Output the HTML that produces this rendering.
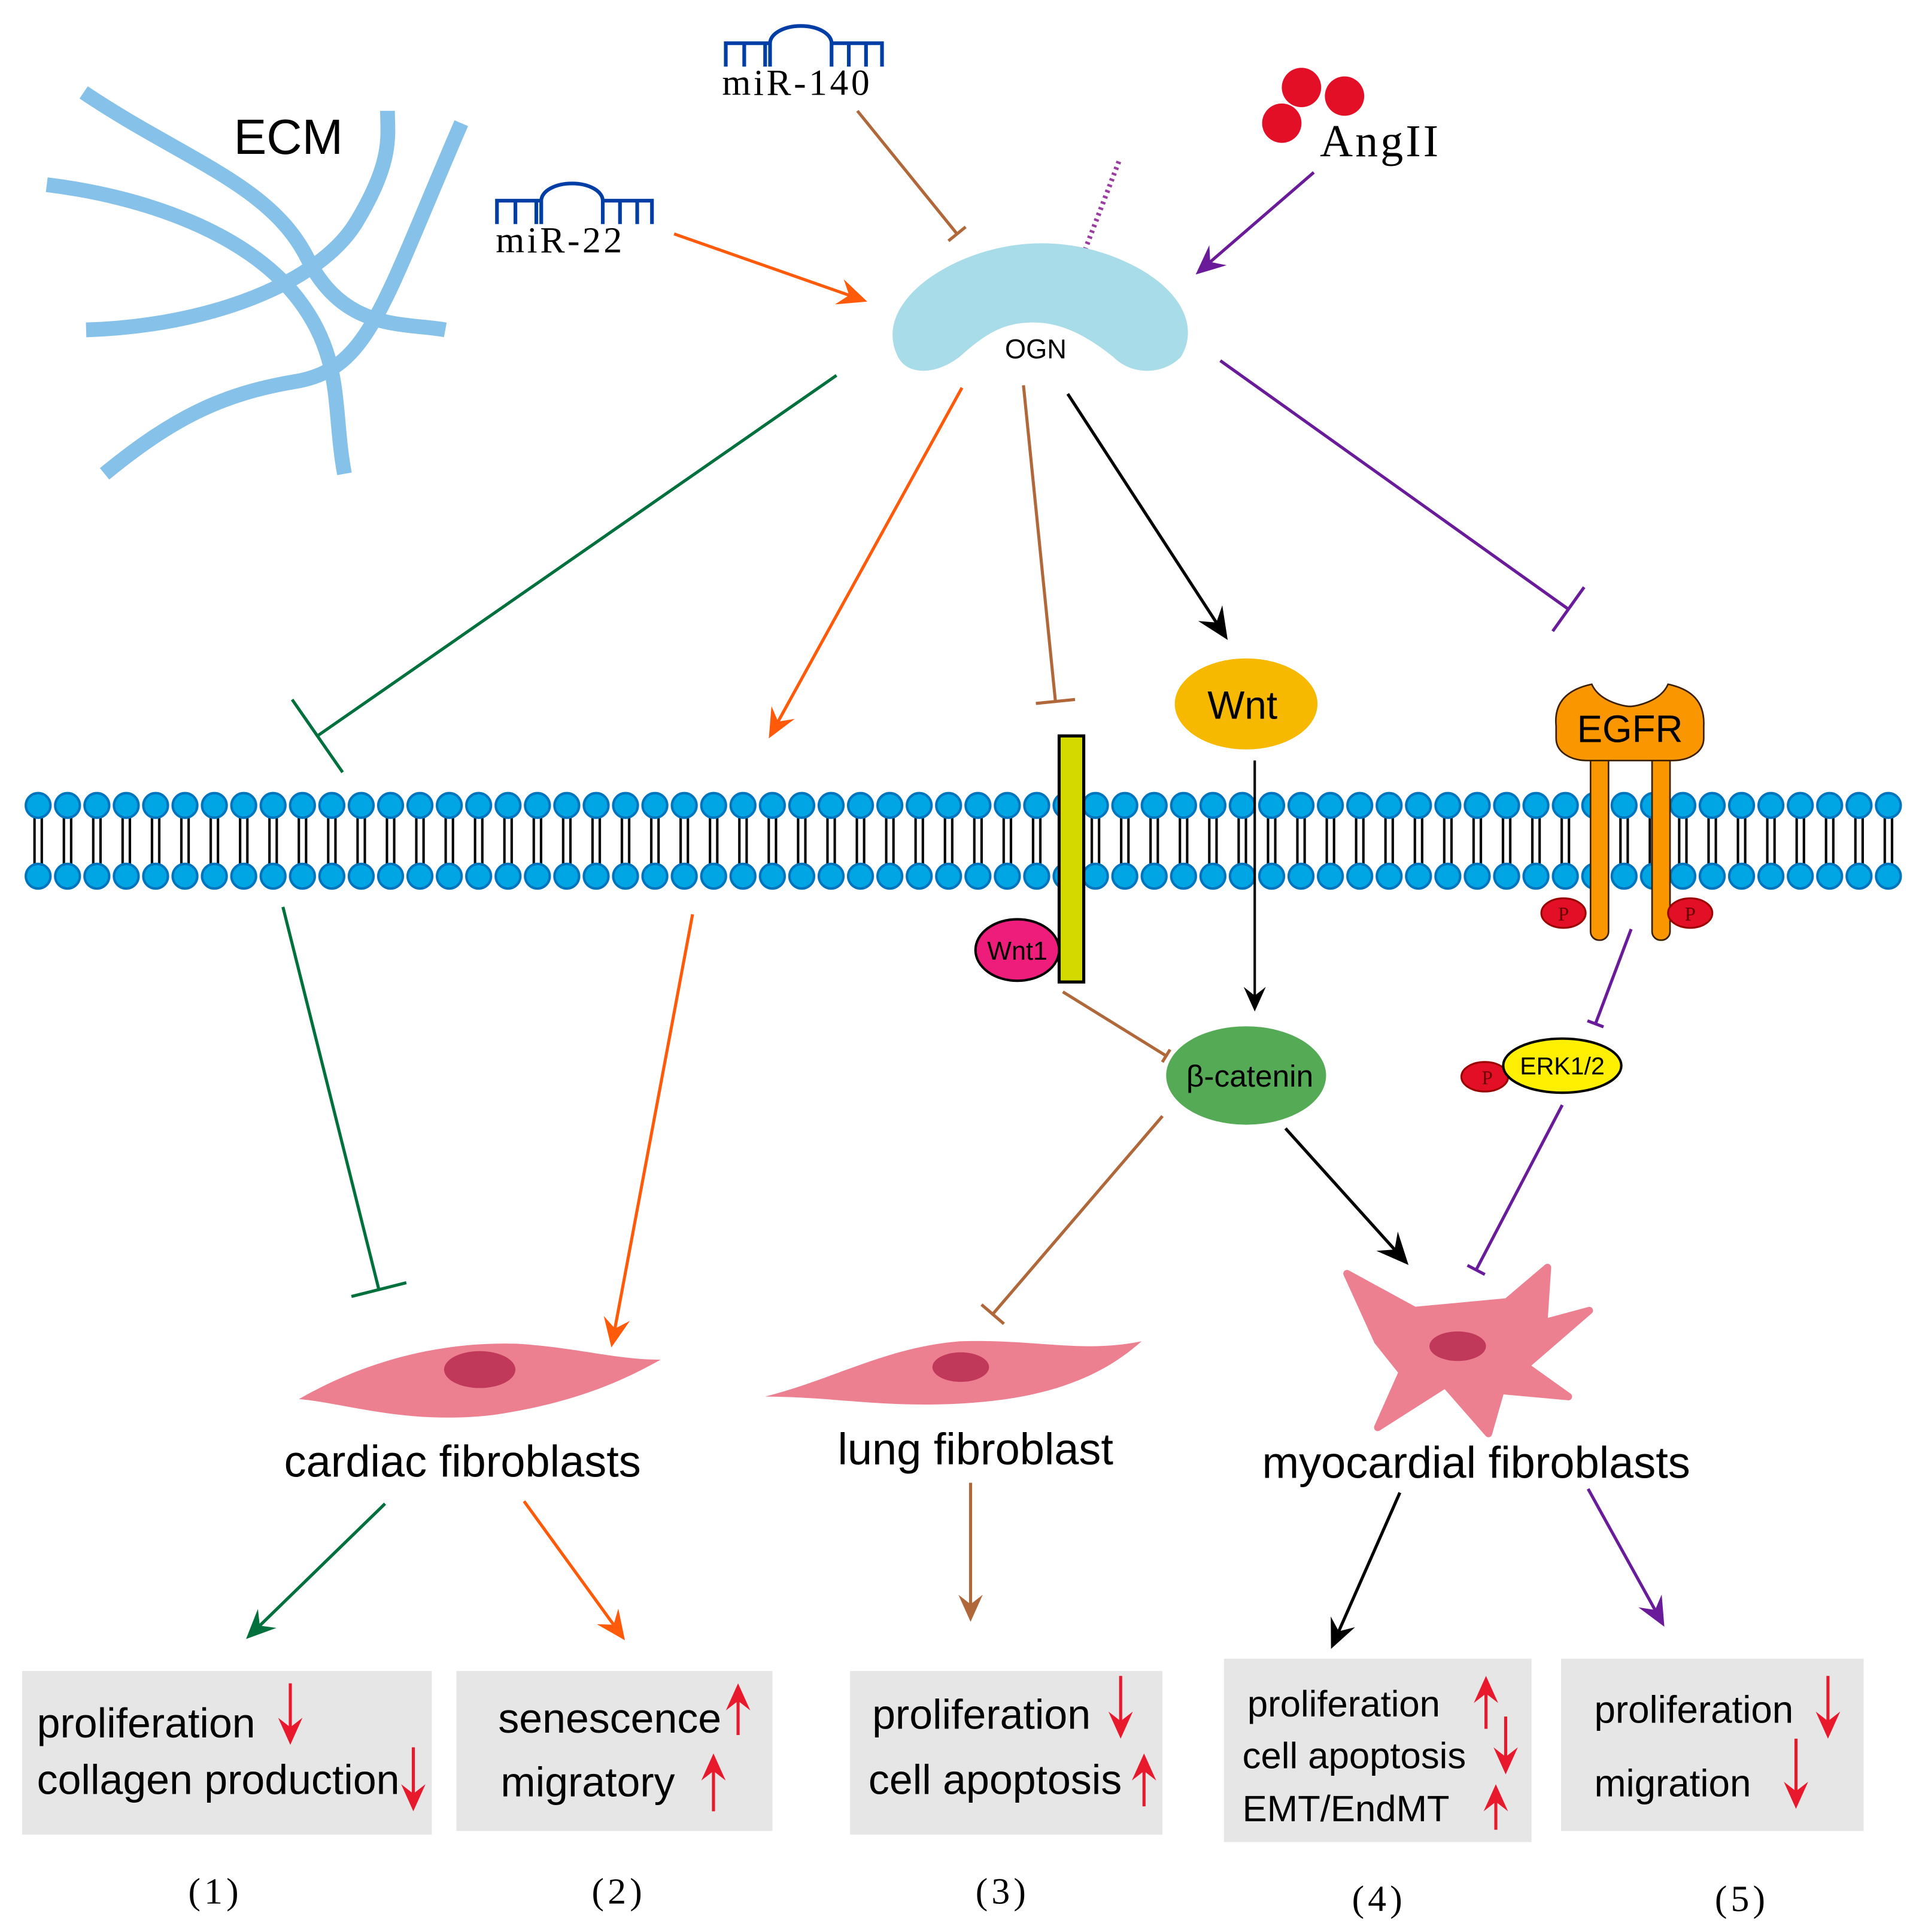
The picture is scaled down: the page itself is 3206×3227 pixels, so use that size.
<!DOCTYPE html>
<html><head><meta charset="utf-8"><style>
html,body{margin:0;padding:0;background:#fff}
svg{display:block}
.s{font-family:"Liberation Sans","DejaVu Sans",sans-serif}
.r{font-family:"Liberation Serif","DejaVu Serif",serif}
</style></head><body>
<svg id="sv" width="3206" height="3227" viewBox="0 0 1560 1570" xmlns="http://www.w3.org/2000/svg">
<defs>
<pattern id="lip" x="19.06" y="0" width="23.875" height="1570" patternUnits="userSpaceOnUse">
<g stroke="#000" stroke-width="2"><line x1="9" y1="660" x2="9" y2="706"/><line x1="14.9" y1="660" x2="14.9" y2="706"/></g>
<circle cx="11.94" cy="654.5" r="10" fill="#00a6e3" stroke="#0073bd" stroke-width="2"/>
<circle cx="11.94" cy="712" r="10" fill="#00a6e3" stroke="#0073bd" stroke-width="2"/>
</pattern>
</defs>
<rect width="1560" height="1570" fill="#fff"/>
<!-- ECM -->
<g fill="none" stroke="#85c1e9" stroke-width="12">
<path d="M68,75 C150,130 220,150 250,210 S330,262 362,268"/>
<path d="M38,150 C120,160 200,190 240,240 S270,330 280,385"/>
<path d="M70,268 C170,265 260,230 290,180 S315,110 315,90"/>
<path d="M85,385 C140,340 180,320 240,310 S310,250 375,100"/>
</g>
<text x="190" y="125" class="s" font-size="40">ECM</text>
<!-- miRs -->
<g fill="none" stroke="#003da5" stroke-width="3">
<path d="M590,54 V35 H626 M605,35 V54 M622,35 V54 M626,54 V35 A25,14 0 0 1 676,35 V54 M676,35 H717 V54 M690,35 V54 M704,35 V54"/>
<path d="M404,182 V163 H440 M419,163 V182 M436,163 V182 M440,182 V163 A25,14 0 0 1 490,163 V182 M490,163 H530 V182 M504,163 V182 M518,163 V182"/>
</g>
<text x="587" y="77" class="r" font-size="30" letter-spacing="2.2">miR-140</text>
<text x="403" y="205" class="r" font-size="30" letter-spacing="2.2">miR-22</text>
<!-- AngII -->
<g fill="#e30f27"><circle cx="1058" cy="71" r="16"/><circle cx="1093" cy="78" r="16"/><circle cx="1042" cy="100" r="16"/></g>
<text x="1073" y="127" class="r" font-size="37" letter-spacing="2">AngII</text>
<!-- OGN -->
<line x1="882" y1="203" x2="910" y2="130" stroke="#9b3ca0" stroke-width="4" stroke-dasharray="2,3"/>
<path d="M730,290 C715,260 740,230 780,212 C830,190 880,195 920,215 C960,235 975,265 960,290 C945,305 920,305 905,290 C880,270 860,262 840,262 C815,262 800,272 780,290 C760,305 738,305 730,290Z" fill="#a8dce8"/>
<text x="842" y="291" class="s" font-size="22" text-anchor="middle">OGN</text>
<!-- membrane -->
<rect x="19" y="640" width="1528" height="85" fill="url(#lip)"/>
<!-- bar & Wnt1 -->
<rect x="861" y="598" width="20" height="200" fill="#d4d900" stroke="#000" stroke-width="2.5"/>
<ellipse cx="827" cy="772" rx="34" ry="25" fill="#ee1c7b" stroke="#000" stroke-width="2"/>
<text x="827" y="780" class="s" font-size="21" text-anchor="middle">Wnt1</text>
<!-- Wnt -->
<ellipse cx="1013" cy="572" rx="58" ry="37" fill="#f7b900"/>
<text x="1010" y="584" class="s" font-size="32" text-anchor="middle">Wnt</text>
<!-- EGFR -->
<g fill="#fa9600" stroke="#3a2000" stroke-width="1.3">
<rect x="1293" y="600" width="14.6" height="164" rx="7"/>
<rect x="1343" y="600" width="14.6" height="164" rx="7"/>
<path d="M1265,590 C1263,570 1275,560 1294,556 C1300,570 1320,574 1325,574 C1330,574 1350,570 1356,556 C1375,560 1386,570 1385,590 V600 C1385,612 1372,618 1360,618 H1290 C1278,618 1265,612 1265,600Z"/>
</g>
<text x="1325" y="603" class="s" font-size="31" text-anchor="middle">EGFR</text>
<g fill="#e30f27" stroke="#900" stroke-width="1.5">
<ellipse cx="1271" cy="742" rx="18" ry="12"/><ellipse cx="1374" cy="742" rx="18" ry="12"/>
<ellipse cx="1207" cy="875" rx="19" ry="12"/></g>
<g class="r" font-size="16" fill="#600" text-anchor="middle"><text x="1271" y="748">P</text><text x="1374" y="748">P</text><text x="1209" y="881">P</text></g>
<ellipse cx="1270" cy="866" rx="48" ry="22" fill="#ffef00" stroke="#000" stroke-width="2"/>
<text x="1270" y="873" class="s" font-size="20" text-anchor="middle">ERK1/2</text>
<!-- beta-catenin -->
<ellipse cx="1013" cy="874" rx="65" ry="40" fill="#55aa55"/>
<text x="1016" y="883" class="s" font-size="25" text-anchor="middle">β-catenin</text>
<!-- cells -->
<g fill="#ec8090">
<path d="M243,1137 C290,1110 350,1090 420,1092 C470,1095 500,1105 537,1105 C510,1120 470,1140 400,1150 C330,1158 280,1140 243,1137Z"/>
<path d="M622,1135 C680,1120 720,1095 780,1090 C840,1088 880,1100 928,1090 C900,1115 860,1135 790,1140 C720,1145 680,1135 622,1135Z"/>
<path d="M1095,1035 L1150,1065 L1225,1058 L1258,1030 L1255,1075 L1292,1065 L1240,1110 L1275,1135 L1220,1130 L1210,1165 L1175,1125 L1120,1160 L1140,1115 L1120,1090Z" stroke="#ec8090" stroke-width="6" stroke-linejoin="round"/>
</g>
<g fill="#c0395a"><ellipse cx="390" cy="1113" rx="29" ry="15"/><ellipse cx="781" cy="1111" rx="23" ry="12"/><ellipse cx="1185" cy="1094" rx="23" ry="12"/></g>
<g class="s" font-size="36" text-anchor="middle">
<text x="376" y="1200">cardiac fibroblasts</text>
<text x="793" y="1190">lung fibroblast</text>
<text x="1200" y="1201">myocardial fibroblasts</text>
</g>
<!-- boxes -->
<g fill="#e6e6e6">
<rect x="18" y="1358" width="333" height="133"/><rect x="371" y="1358" width="257" height="130"/>
<rect x="691" y="1358" width="254" height="133"/><rect x="995" y="1348" width="250" height="149"/>
<rect x="1269" y="1348" width="246" height="140"/></g>
<g class="s" font-size="34">
<text x="30" y="1412">proliferation</text><text x="30" y="1458">collagen production</text>
<text x="405" y="1408">senescence</text><text x="407" y="1460">migratory</text>
<text x="709" y="1405">proliferation</text><text x="706" y="1458">cell apoptosis</text>
<text x="1296" y="1400" font-size="31">proliferation</text><text x="1296" y="1460" font-size="31">migration</text>
</g>
<g class="s" font-size="30">
<text x="1014" y="1395">proliferation</text><text x="1010" y="1437">cell apoptosis</text><text x="1010" y="1480">EMT/EndMT</text>
</g>
<g class="r" font-size="30" text-anchor="middle" letter-spacing="3">
<text x="175" y="1547">(1)</text><text x="503" y="1547">(2)</text><text x="815" y="1547">(3)</text><text x="1121" y="1553">(4)</text><text x="1416" y="1553">(5)</text>
</g>
<g id="conn"></g>
</svg>
<script>
var g=document.getElementById('conn'),NS='http://www.w3.org/2000/svg';
function L(x1,y1,x2,y2,c,w){var l=document.createElementNS(NS,'line');l.setAttribute('x1',x1);l.setAttribute('y1',y1);l.setAttribute('x2',x2);l.setAttribute('y2',y2);l.setAttribute('stroke',c);l.setAttribute('stroke-width',w||2.5);g.appendChild(l);}
function A(x1,y1,x2,y2,c,w,h){h=h||22;w=w||2.5;var dx=x2-x1,dy=y2-y1,d=Math.hypot(dx,dy),ux=dx/d,uy=dy/d,px=-uy,py=ux;
L(x1,y1,x2-ux*h*0.6,y2-uy*h*0.6,c,w);var p=document.createElementNS(NS,'polygon');var hw=h*0.45;
p.setAttribute('points',x2+','+y2+' '+(x2-ux*h+px*hw)+','+(y2-uy*h+py*hw)+' '+(x2-ux*h*0.65)+','+(y2-uy*h*0.65)+' '+(x2-ux*h-px*hw)+','+(y2-uy*h-py*hw));p.setAttribute('fill',c);g.appendChild(p);}
function T(x1,y1,x2,y2,c,len,w){w=w||2.5;var dx=x2-x1,dy=y2-y1,d=Math.hypot(dx,dy),px=-dy/d,py=dx/d;L(x1,y1,x2,y2,c,w);L(x2+px*len,y2+py*len,x2-px*len,y2-py*len,c,w);}
var br='#b0683a',og='#ff5a0a',gr='#00703c',pu='#6a1b9a',bk='#000',rd='#e8192c';
T(697,90,778,190,br,9);A(548,190,705,245,og,2.5,24);A(1068,140,972,223,pu,2.5,24);
T(680,305,258,598,gr,36);A(782,315,625,600,og,2.5,24);T(832,313,858,570,br,16);A(868,320,998,520,bk,2.5,26);T(992,293,1275,495,pu,22);
A(1020,618,1020,822,bk,2,20);T(864,806,948,858,br,6);T(1326,755,1297,832,pu,7);T(1270,898,1200,1032,pu,8);
T(230,737,308,1048,gr,23);A(563,743,497,1095,og,2.5,24);T(945,907,807,1068,br,12);A(1045,917,1145,1028,bk,2.5,26);
A(313,1222,200,1332,gr,2.5,24);A(426,1220,508,1333,og,2.5,24);A(789,1205,789,1318,br,2.5,22);A(1138,1213,1082,1340,bk,2.5,24);A(1291,1210,1353,1322,pu,2.5,24);
[[236,1368,236,1418],[336,1420,336,1472],[600,1410,600,1368],[580,1472,580,1425],[911,1362,911,1413],[930,1468,930,1425],[1208,1405,1208,1362],[1224,1395,1224,1442],[1216,1487,1216,1450],[1486,1362,1486,1413],[1460,1413,1460,1470]].forEach(function(a){A(a[0],a[1],a[2],a[3],rd,2.5,22);});
</script>
</body></html>
